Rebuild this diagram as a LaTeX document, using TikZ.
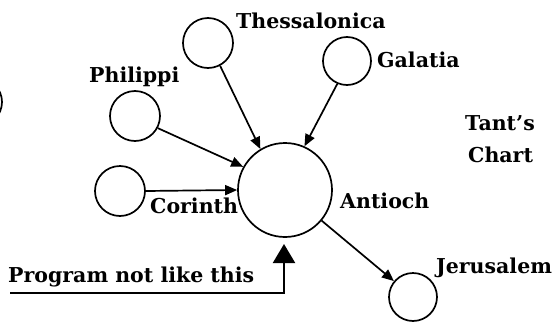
\documentclass[tikz,border=0pt]{standalone}
\usepackage{fontspec}
\setmainfont{DejaVu Serif}
\usetikzlibrary{arrows.meta}
\begin{document}
\begin{tikzpicture}[x=1pt,y=-1pt,
  city/.style={circle,draw,line width=1.7pt,inner sep=0pt,minimum size=#1},
  lbl/.style={anchor=base west,inner sep=0pt,font=\bfseries\fontsize{20.5}{23}\selectfont},
  conn/.style={line width=1.7pt,-{Triangle[length=12pt,width=10pt]}},
  bigarrow/.style={line width=2.2pt,-{Triangle[length=19pt,width=22pt]}}]
\useasboundingbox (0,0) rectangle (560,327);
\fill[white] (0,0) rectangle (560,327);
% cities
\node[city=50pt] (thes) at (208,43) {};
\node[city=48pt] (gal) at (347,61) {};
\node[city=50pt] (phil) at (135,116) {};
\node[city=50pt] (cor) at (120,191) {};
\node[city=94pt] (ant) at (285,190) {};
\node[city=48pt] (jer) at (413,297) {};
% fragment at left edge
\draw[line width=1.7pt] (-22,102) circle (24pt);
% labels
\node[lbl] (tthes) at (236,28) {Thessalonica};
\node[lbl] (tgal) at (377,67) {Galatia};
\node[lbl] (tphil) at (89,82) {Philippi};
\node[lbl] (tcor) at (150,213) {Corinth};
\node[lbl] (tant) at (340,208) {Antioch};
\node[lbl] (tjer) at (436,273) {Jerusalem};
\node[lbl] (ttant) at (465,130) {Tant's};
\node[lbl] (tchart) at (468,162) {Chart};
\node[lbl] (tprog) at (8,282) {Program not like this};
% connectors
\draw[conn] (thes.-62) -- (ant.121);
\draw[conn] (gal.-113) -- (ant.66);
\draw[conn] (phil.-28) -- (ant.151);
\draw[conn] (cor.east) -- (ant.west);
\draw[conn] (ant) -- (jer);
\coordinate (ps) at (10,293);
\coordinate (pt) at (284,244);
\draw[bigarrow] (ps) -| (pt);
\end{tikzpicture}
\end{document}
